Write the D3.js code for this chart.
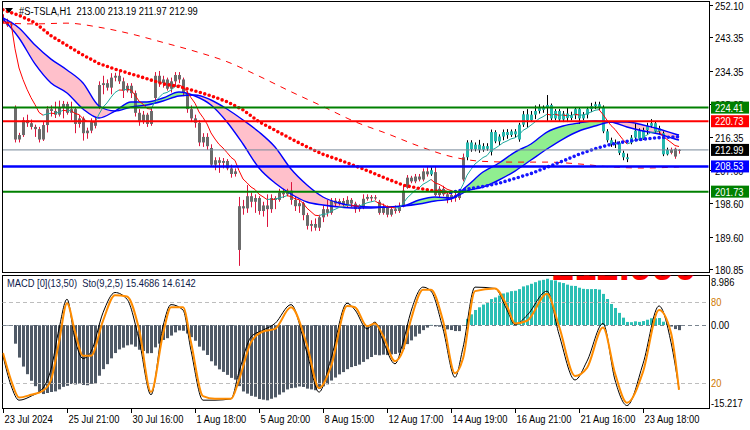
<!DOCTYPE html>
<html><head><meta charset="utf-8">
<script src="https://cdn.jsdelivr.net/npm/d3@7"></script>
<style>
body{margin:0;background:#fff;}
svg{display:block;}
text{font-family:"Liberation Sans",Arial,sans-serif;font-size:11px;white-space:pre;}
</style></head><body>
<svg id="c" width="750" height="430"></svg>
<script>
// ---------- DATA ----------
const opens  = [248.5,247.6,246.6,224.3,215.8,217.0,221.0,220.2,219.2,218.6,215.8,219.7,224.0,223.5,222.5,224.5,225.4,223.0,224.0,220.0,221.5,217.5,218.2,220.5,224.5,230.5,231.0,229.8,232.5,233.0,231.5,229.0,230.3,228.3,223.0,220.5,222.5,220.0,227.0,233.0,231.0,232.0,229.5,231.5,233.2,232.0,228.4,224.0,221.5,220.3,215.0,216.5,213.5,209.0,210.2,209.5,210.0,208.0,206.5,186.0,197.8,197.2,200.5,199.0,200.0,196.5,198.0,197.0,200.0,199.5,201.5,201.0,202.0,199.5,197.8,198.6,195.4,192.5,193.0,192.0,194.8,197.0,196.0,199.3,198.5,199.2,198.2,199.5,198.5,197.0,197.5,199.8,200.3,199.9,199.0,196.0,197.5,195.5,197.0,196.5,197.8,202.8,205.5,204.5,205.8,205.0,207.2,206.4,207.0,200.8,202.5,201.0,199.8,200.8,200.0,205.0,211.0,215.0,213.2,214.4,213.0,214.0,212.5,217.8,215.3,216.6,217.8,217.0,218.0,215.8,219.8,222.6,221.0,222.5,223.5,224.5,224.3,225.1,221.5,223.5,221.2,222.8,221.6,222.3,224.0,221.5,222.5,224.0,224.8,225.3,224.5,218.0,215.6,214.5,214.9,212.2,211.0,215.0,216.3,218.2,216.0,218.3,219.5,220.2,218.0,217.5,211.8,213.0,213.3,213.00];
const highs  = [249.6,248.4,247.6,225.0,217.6,221.8,222.5,221.2,219.8,219.2,220.5,224.8,225.0,226.0,226.3,226.2,226.0,226.0,224.5,222.5,222.0,219.0,221.5,221.8,231.5,233.0,232.0,233.7,233.8,234.0,232.5,231.0,231.0,229.0,224.0,223.5,223.0,224.5,234.0,234.3,233.0,232.5,232.5,234.0,234.0,232.5,229.0,225.0,222.5,221.0,217.5,217.5,214.5,211.0,211.0,210.8,210.5,209.0,208.0,200.3,199.5,203.5,201.5,201.0,200.5,199.0,201.0,201.0,200.5,202.5,202.5,202.5,204.3,200.5,199.5,199.0,196.0,194.0,194.5,195.5,198.0,199.5,200.0,200.0,199.8,200.0,200.5,200.0,199.0,198.3,201.0,201.0,200.8,200.8,199.5,198.5,198.0,197.8,198.0,198.8,203.5,206.2,206.0,206.5,206.5,208.0,208.5,208.3,208.5,203.2,203.3,201.8,201.6,201.5,202.0,212.0,215.6,215.6,215.0,215.7,214.8,214.8,218.5,218.3,217.2,218.5,218.6,218.5,218.6,220.3,223.5,224.0,223.5,225.0,225.3,225.0,227.8,225.5,224.0,224.0,223.5,224.3,223.3,224.5,224.3,223.2,224.6,225.7,226.0,226.0,225.0,218.6,216.3,215.8,215.3,212.8,212.0,217.0,220.2,218.8,219.0,220.3,221.3,220.6,219.5,218.0,213.6,213.6,213.6,213.19];
const lows   = [247.2,246.2,245.8,215.0,215.0,216.5,219.2,218.5,216.5,215.0,215.4,217.7,222.0,221.6,222.0,221.5,222.5,221.0,217.5,219.0,215.5,216.0,217.5,218.8,224.0,228.0,229.0,228.0,231.5,230.8,227.0,228.5,227.0,222.0,219.5,220.0,219.2,219.5,226.0,230.0,229.8,229.0,228.5,230.0,231.0,227.5,223.0,220.5,219.0,214.0,213.8,213.0,208.5,207.5,206.8,208.0,207.5,205.5,205.8,181.7,195.5,196.0,197.5,196.0,195.5,195.0,192.2,196.0,197.0,199.0,200.0,200.5,198.2,196.5,196.0,194.0,191.5,191.0,191.2,191.1,193.5,195.0,195.5,197.8,198.0,197.5,197.5,197.5,196.0,196.3,197.0,199.3,199.0,199.5,195.5,195.5,194.8,195.0,195.8,196.0,197.5,202.5,204.0,204.0,204.5,204.5,205.8,206.0,200.5,200.2,200.5,198.6,198.9,199.0,199.5,204.5,210.2,212.5,212.6,212.2,212.5,212.8,211.5,214.8,214.3,215.6,216.0,216.5,216.2,215.2,219.2,219.0,220.5,221.3,222.8,223.0,220.8,221.0,221.0,220.8,220.5,220.5,221.0,221.3,220.0,221.0,221.5,223.2,224.0,223.8,217.5,215.0,213.8,213.5,211.6,210.2,209.7,214.5,215.3,215.5,215.7,217.0,219.0,217.3,217.3,211.3,211.5,211.8,210.6,211.97];
const closes = [247.6,246.6,246.9,215.8,217.0,221.0,220.2,219.2,218.6,215.8,219.7,224.0,223.5,222.5,224.5,225.4,223.0,224.0,220.0,221.5,217.5,218.2,220.5,219.5,230.5,231.0,229.8,232.5,233.0,231.5,229.0,230.3,228.3,223.0,220.5,222.5,220.0,223.5,233.0,231.0,232.0,229.5,231.5,233.2,232.0,228.4,224.0,221.5,220.3,215.0,216.5,214.0,209.0,210.2,209.5,210.0,208.0,206.5,207.2,197.8,197.2,200.5,199.0,200.0,196.5,198.0,197.0,200.0,199.5,201.5,201.0,202.0,199.5,197.8,198.6,195.4,192.5,193.0,192.0,194.8,197.0,196.0,199.3,198.5,199.2,198.2,199.5,198.5,197.0,197.5,199.8,200.3,199.9,200.2,196.0,197.5,195.5,197.0,196.5,197.8,202.0,205.5,204.5,205.8,205.0,207.2,206.4,207.5,200.8,202.5,201.0,199.8,200.8,200.0,201.3,211.0,215.0,213.2,214.4,213.0,214.0,213.3,217.8,215.3,216.6,217.8,217.0,218.0,217.2,219.8,222.6,221.0,222.5,223.5,224.5,223.8,225.1,221.5,223.5,221.2,222.8,221.6,222.3,224.0,221.5,222.5,224.0,224.8,225.3,224.5,218.0,215.6,214.5,214.9,212.2,211.0,210.5,216.3,218.2,216.0,218.3,219.5,220.2,218.0,218.8,211.8,213.0,212.2,211.2,212.99];

// indicator lines (bar index -> value)
const ribbonBars = [0,4,8,12,16,20,24,28,32,36,40,44,48,52,56,60,64,68,72,76,80,84,88,92,96,100,104,108,112,116,120,124,128,132,136,140,144,148,152,156,160,164,168,169];
const ribbonFast = [248.3,243.2,236.2,231.05,228.35,224.03,221.6,223.49,225.92,225.92,227.0,228.62,227.54,225.11,220.52,214.58,208.1,204.06,201.09,198.93,198.12,197.58,197.31,197.31,197.58,197.85,199.47,200.28,200.01,203.25,207.02,209.45,212.42,214.58,217.82,219.44,220.25,220.79,220.52,219.17,218.09,217.28,215.93,215.66];
const ribbonSlow = [248.6,245.9,241.3,237.5,234.56,231.05,224.84,223.49,224.57,225.11,226.19,227.54,227.81,226.46,224.03,221.06,217.82,213.77,207.83,203.52,200.28,198.66,197.85,197.58,197.58,197.85,198.39,199.2,199.74,201.9,202.98,204.87,207.29,210.26,213.23,215.93,218.09,219.44,220.52,220.52,219.71,218.63,217.28,217.0];
const dotMA = [250.8,249.3,247.3,243.8,241.2,238.6,236.3,234.8,233.5,232.2,230.8,230.1,228.9,227.6,226.0,223.8,220.6,218.3,216.0,213.8,211.8,210.3,208.7,207.0,205.2,203.5,202.6,201.9,201.5,202.4,203.1,204.0,205.3,206.6,208.3,210.0,211.8,213.3,214.5,215.3,215.9,216.3,216.5,216.55];
const dashBars = [0,8,16,24,32,40,48,56,64,72,80,88,96,104,112,120,128,136,144,152,160,169];
const dashMA = [247.2,247.0,247.2,246.1,244.3,242.0,239.6,236.8,232.9,228.7,224.7,220.6,217.4,214.0,211.2,209.9,209.7,209.7,209.2,208.4,208.1,208.4];

const stochBars = [0,2,4,7,10,12,14,16,18,20,22,25,28,31,34,37,40,42,45,47,50,53,57,59,62,65,68,72,76,79,82,86,88,91,93,95,98,100,102,105,107,110,113,115,118,123,126,128,131,136,139,143,146,150,153,156,160,164,167,169];
const stochMain = [40,18,7,10,16,30,60,82,52,38,43,72,87,82,52,11,62,78,74,44,7,7,8,28,54,59,64,78,42,13,38,79,74,60,65,51,34,50,73,91,88,60,24,46,91,90,74,63,70,88,56,22,36,64,22,3,34,77,50,15.4686];
const stochSig  = [42,22,9,11,14,22,50,79,58,40,40,66,85,84,60,13,56,76,76,50,10,8,8,22,50,58,60,76,48,16,32,77,76,62,64,55,36,44,67,89,89,66,27,38,88,90,77,64,66,86,62,25,31,61,27,5,28,74,57,14.6142];

const levelValues = [224.41,220.73,212.99,208.53,201.73];
const priceTicks = [252.10,243.35,234.35,225.35,216.35,207.60,198.60,189.60,180.85];
const timeLabels = ["23 Jul 2024","25 Jul 21:00","30 Jul 16:00","1 Aug 18:00","5 Aug 20:00","8 Aug 15:00","12 Aug 17:00","14 Aug 19:00","16 Aug 21:00","21 Aug 16:00","23 Aug 18:00"];
const timeLabelBars = [0,16,32,48,64,80,96,112,128,144,160];
const macdLabels = ["8.986","0.00","-15.217"];
const stochLevels = [80,20];
const bigLabel = "212.990";

// ---------- LAYOUT ----------
const L=2, R=709, mTop=1, mBot=272, sTop=275, sBot=408;
const n = closes.length;
const x = d3.scaleLinear().domain([0,169]).range([3,679]);
const y = d3.scaleLinear().domain([180.85,252.10]).range([269,5]);
const yM = d3.scaleLinear().domain([-15.217,8.986]).range([408,276]);
const yS = d3.scaleLinear().domain([0,100]).range([409.6,275]);
const SX = 0.85;

const svg = d3.select("#c");
function T(sel,xx,yy,str,fill){
  return sel.append("text").attr("transform",`translate(${xx},${yy}) scale(${SX},1)`).attr("fill",fill||"#000").text(str);
}
const defs = svg.append("defs");
defs.append("clipPath").attr("id","clipMain").append("rect").attr("x",L+0.5).attr("y",mTop+0.5).attr("width",R-L-1).attr("height",mBot-mTop-1);
defs.append("clipPath").attr("id","clipSub").append("rect").attr("x",L+0.5).attr("y",sTop+0.5).attr("width",R-L-1).attr("height",sBot-sTop-1);

// ---------- MACD (13,50) from closes ----------
function ema(src,p){const a=2/(p+1);const o=[src[0]];for(let i=1;i<src.length;i++)o.push(o[i-1]+a*(src[i]-o[i-1]));return o;}
const e13=ema(closes,13), e50=ema(closes,50);
const macd=closes.map((c,i)=>e13[i]-e50[i]);
const fastLine=ema(closes,8);

// ---------- MAIN PANEL ----------
const gm = svg.append("g").attr("clip-path","url(#clipMain)");
const rib = ribbonBars.map((b,k)=>({b,f:ribbonFast[k],s:ribbonSlow[k]}));
const cv = d3.curveMonotoneX;
defs.append("clipPath").attr("id","abS").append("path").attr("d",d3.area().x(d=>x(d.b)).y0(0).y1(d=>y(d.s)).curve(cv)(rib));
defs.append("clipPath").attr("id","abF").append("path").attr("d",d3.area().x(d=>x(d.b)).y0(0).y1(d=>y(d.f)).curve(cv)(rib));
gm.append("g").attr("clip-path","url(#abS)").append("path")
  .attr("d",d3.area().x(d=>x(d.b)).y0(d=>y(d.f)).y1(mBot).curve(cv)(rib)).attr("fill","#90EE90");
gm.append("g").attr("clip-path","url(#abF)").append("path")
  .attr("d",d3.area().x(d=>x(d.b)).y0(d=>y(d.s)).y1(mBot).curve(cv)(rib)).attr("fill","#FFC0CB");

// candles
const cg = gm.append("g");
for(let i=0;i<n;i++){
  const up = macd[i]>0;
  const cx = Math.round(x(i))+0.5;
  cg.append("line").attr("x1",cx).attr("x2",cx).attr("y1",y(highs[i])).attr("y2",y(lows[i]))
    .attr("stroke",up?"#000":"#DC143C").attr("stroke-width",1);
  const top=y(Math.max(opens[i],closes[i])), bot=y(Math.min(opens[i],closes[i]));
  cg.append("rect").attr("x",cx-1.5).attr("width",3).attr("y",top).attr("height",Math.max(1,bot-top))
    .attr("fill",up?"#26B7AD":"#6B6B6B");
}

// ribbon lines
["f","s"].forEach(k=>{
  gm.append("path").attr("d",d3.line().x(d=>x(d.b)).y(d=>y(d[k])).curve(cv)(rib))
    .attr("fill","none").attr("stroke","#0000FF").attr("stroke-width",1.4);
});

function slopePaths(g, pts, upCol, dnCol, attrs){
  let cur=null, seg=[];
  const flush=()=>{ if(seg.length>1){ const p=g.append("path").attr("d",d3.line().x(d=>x(d[0])).y(d=>y(d[1]))(seg)).attr("fill","none").attr("stroke",cur); for(const a in attrs)p.attr(a,attrs[a]); } };
  for(let k=0;k<pts.length-1;k++){
    const col = pts[k+1][1]>=pts[k][1]?upCol:dnCol;
    if(col!==cur){ flush(); cur=col; seg=[pts[k]]; }
    seg.push(pts[k+1]);
  }
  flush();
}
gm.append("path").attr("d",d3.line().x((d,k)=>x(dashBars[k])).y(d=>y(d)).curve(cv)(dashMA))
  .attr("fill","none").attr("stroke","#FF0000").attr("stroke-width",1).attr("stroke-dasharray","6 6");
slopePaths(gm, closes.map((c,i)=>[i,fastLine[i]]), "#20A89E", "#FF0000", {"stroke-width":1});
slopePaths(gm, dotMA.map((v,k)=>[ribbonBars[k],v]), "#1515FF", "#FF0000", {"stroke-width":3.6,"stroke-dasharray":"0 4.6","stroke-linecap":"round"});

const levelStyle=[["#008000",2],["#FF0000",2],["#778899",1],["#0000FF",2.5],["#008000",2]];
levelValues.forEach((v,k)=>{
  gm.append("line").attr("x1",L).attr("x2",R).attr("y1",y(v)).attr("y2",y(v))
    .attr("stroke",levelStyle[k][0]).attr("stroke-width",levelStyle[k][1]);
});

svg.append("rect").attr("x",L+0.5).attr("y",mTop+0.5).attr("width",R-L).attr("height",mBot-mTop).attr("fill","none").attr("stroke","#000");
svg.append("rect").attr("x",L+0.5).attr("y",sTop+0.5).attr("width",R-L).attr("height",sBot-sTop).attr("fill","none").attr("stroke","#000");

// price axis
priceTicks.forEach(v=>{
  const yy=Math.round(y(v))+0.5;
  svg.append("line").attr("x1",R).attr("x2",R+4).attr("y1",yy).attr("y2",yy).attr("stroke","#000");
  T(svg,R+6,yy+4,v.toFixed(2));
});
const boxCol=["#008000","#FF0000","#000000","#0000FF","#008000"];
levelValues.forEach((v,k)=>{
  const yy=y(v);
  svg.append("rect").attr("x",R+2).attr("y",yy-6).attr("width",38).attr("height",12).attr("fill",boxCol[k]);
  T(svg,R+6,yy+4,v.toFixed(2),"#fff");
});

// title
svg.append("path").attr("d","M5,8 L13,8 L9,13 Z").attr("fill","#000");
const last=n-1;
T(svg,19,15,"#S-TSLA,H1  "+[opens[last],highs[last],lows[last],closes[last]].map(v=>v.toFixed(2)).join(" "));

// ---------- SUB PANEL ----------
const gs = svg.append("g").attr("clip-path","url(#clipSub)");
for(let i=0;i<n;i++){
  const v=macd[i];
  const y0=yM(0), y1=yM(v);
  gs.append("rect").attr("x",Math.round(x(i))-1).attr("width",3).attr("y",Math.min(y0,y1)).attr("height",Math.max(0.5,Math.abs(y1-y0)))
    .attr("fill",v>0?"#2ABFB4":"#4F5966");
}
stochLevels.forEach(v=>{
  gs.append("line").attr("x1",L).attr("x2",R).attr("y1",Math.round(yS(v))+0.5).attr("y2",Math.round(yS(v))+0.5)
    .attr("stroke","#BDBDBD").attr("stroke-dasharray","4 3");
});
gs.append("line").attr("x1",L).attr("x2",R).attr("y1",Math.round(yM(0))+0.5).attr("y2",Math.round(yM(0))+0.5)
  .attr("stroke","#7A8590").attr("stroke-dasharray","4 3");
gs.append("path").attr("d",d3.line().x((d,k)=>x(stochBars[k])).y(d=>yS(d)).curve(cv)(stochMain)).attr("fill","none").attr("stroke","#000").attr("stroke-width",1);
gs.append("path").attr("d",d3.line().x((d,k)=>x(stochBars[k])).y(d=>yS(d)).curve(cv)(stochSig)).attr("fill","none").attr("stroke","#FF8C00").attr("stroke-width",2);
// big price label object, mostly hidden above the sub-window top
gs.append("text").attr("x",552).attr("y",280).attr("fill","#FF0000").style("font-size","40px").style("font-weight","bold").text(bigLabel);

T(svg,7,287,"MACD [0](13,50)  Sto(9,2,5) "+stochMain[stochMain.length-1].toFixed(4)+" "+stochSig[stochSig.length-1].toFixed(4),"#0E1A4A");
T(svg,R+2,286,macdLabels[0]);
T(svg,R+2,yM(0)+4,macdLabels[1]);
T(svg,R+2,407,macdLabels[2]);
stochLevels.forEach(v=>{ T(svg,R+2,yS(v)+4,String(v),"#D07800"); });

// time axis
timeLabelBars.forEach((b,k)=>{
  const xx=Math.round(x(b))+0.5;
  svg.append("line").attr("x1",xx).attr("x2",xx).attr("y1",sBot).attr("y2",sBot+5).attr("stroke","#000");
  T(svg,xx+1,423,timeLabels[k]);
});
</script>
</body></html>
